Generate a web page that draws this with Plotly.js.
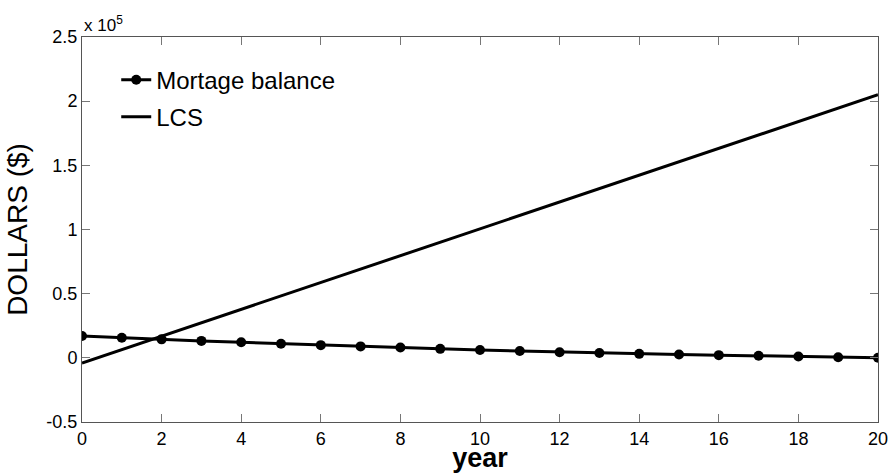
<!DOCTYPE html>
<html>
<head>
<meta charset="utf-8">
<script src="https://cdn.plot.ly/plotly-3.0.1.min.js"></script>
<style>html,body{margin:0;padding:0;background:#fff;}#chart{width:891px;height:473px;}</style>
</head>
<body>
<div id="chart"></div>
<script>
const years = [0,1,2,3,4,5,6,7,8,9,10,11,12,13,14,15,16,17,18,19,20];
const mortgageBalance = [17000,15600,14400,13200,12100,11000,9900,8900,8000,7000,6100,5300,4400,3800,3100,2600,2100,1600,1100,500,0];
const lcs = [-4000,6450,16900,27350,37800,48250,58700,69150,79600,90050,100500,110950,121400,131850,142300,152750,163200,173650,184100,194550,205000];
const yTickVals = [-50000,0,50000,100000,150000,200000,250000];
const yTickText = ['-0.5','0','0.5','1','1.5','2','2.5'];
const xTickVals = [0,2,4,6,8,10,12,14,16,18,20];

const font = 'Liberation Sans, Arial, sans-serif';
const traces = [
  {x: years, y: mortgageBalance, name: 'Mortage balance', mode: 'lines+markers', legend: 'legend',
   line: {color: '#000', width: 3}, marker: {color: '#000', size: 10, symbol: 'circle'}},
  {x: years, y: lcs, name: 'LCS', mode: 'lines', legend: 'legend2', line: {color: '#000', width: 3}}
];
const axisCommon = {showgrid: false, zeroline: false, showline: true, linecolor: '#555', linewidth: 1,
  mirror: 'allticks', ticks: 'inside', ticklen: 8, tickcolor: '#777', tickwidth: 1,
  tickfont: {family: font, size: 18, color: '#000'}};
const legendCommon = {xanchor: 'left', yanchor: 'middle', bgcolor: 'rgba(0,0,0,0)',
  font: {family: font, size: 24, color: '#000'}, itemwidth: 30};
const layout = {
  width: 891, height: 473,
  margin: {l: 82, r: 13, t: 37, b: 51},
  paper_bgcolor: '#fff', plot_bgcolor: '#fff',
  showlegend: true,
  legend: Object.assign({}, legendCommon, {x: 0.043, y: 0.888}),
  legend2: Object.assign({}, legendCommon, {x: 0.043, y: 0.792}),
  xaxis: Object.assign({}, axisCommon, {range: [0, 20], tickvals: xTickVals,
    title: {text: '<b>year</b>', font: {family: font, size: 27, color: '#000'}, standoff: 0}}),
  yaxis: Object.assign({}, axisCommon, {range: [-50000, 250000], tickvals: yTickVals, ticktext: yTickText,
    title: {text: 'DOLLARS ($)', font: {family: font, size: 28, color: '#000'}, standoff: 10}}),
  annotations: [{xref: 'paper', yref: 'paper', x: 0, y: 1, xanchor: 'left', yanchor: 'bottom',
    text: 'x 10<sup>5</sup>', showarrow: false, font: {family: font, size: 17, color: '#000'}, yshift: 0}]
};
Plotly.newPlot('chart', traces, layout, {displayModeBar: false, staticPlot: true});
</script>
</body>
</html>
